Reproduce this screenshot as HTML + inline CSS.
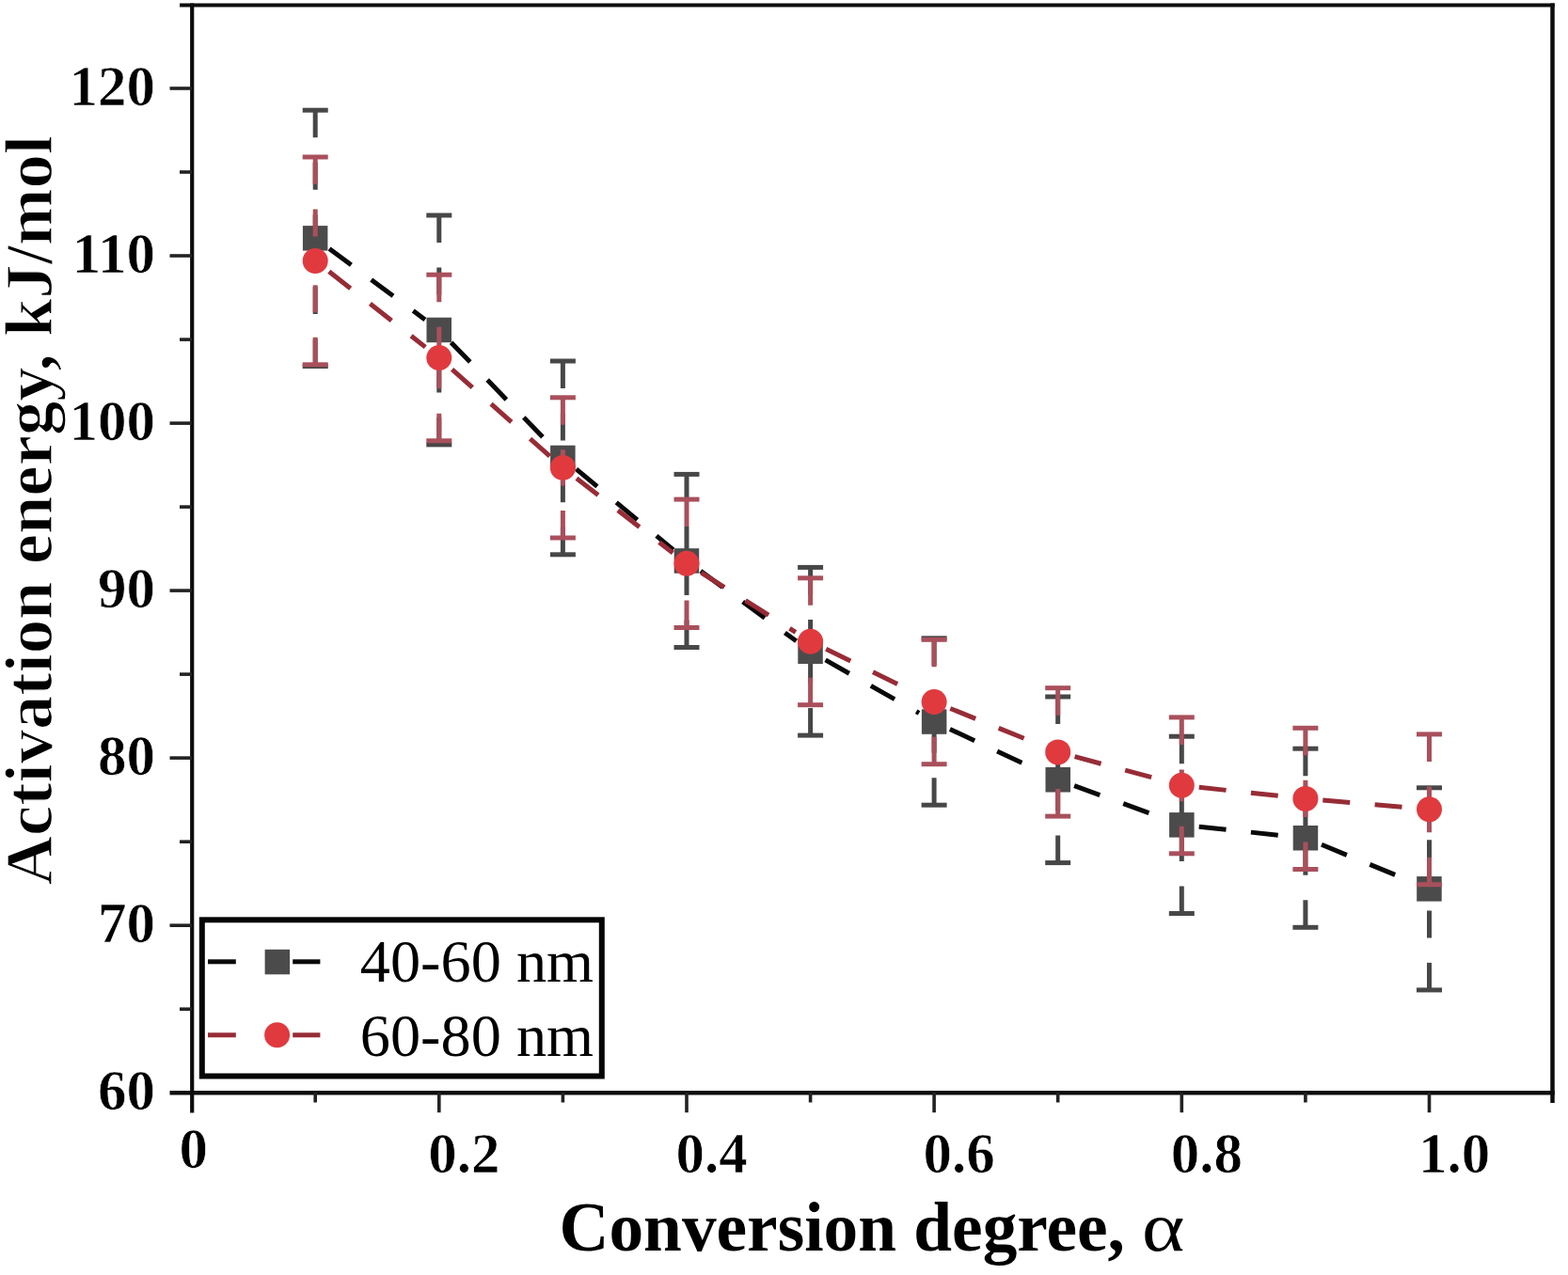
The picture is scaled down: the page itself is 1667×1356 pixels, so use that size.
<!DOCTYPE html>
<html><head><meta charset="utf-8"><title>Activation energy vs conversion degree</title>
<style>html,body{margin:0;padding:0;background:#fff;}svg{display:block;}</style></head>
<body>
<svg width="1667" height="1356" viewBox="0 0 1667 1356">
<rect width="1667" height="1356" fill="#fff"/>
<g stroke="#0d0d0d" fill="none">
<line x1="204.2" y1="3.5" x2="204.2" y2="1183.5" stroke-width="4.2"/>
<line x1="180.5" y1="1162.2" x2="1652.8" y2="1162.2" stroke-width="4.6"/>
<line x1="191" y1="5.5" x2="1652.8" y2="5.5" stroke-width="4"/>
<line x1="1650.5" y1="3.5" x2="1650.5" y2="1173" stroke-width="4.5"/>
</g>
<g stroke="#222" stroke-width="3.6"><line x1="180.5" y1="984.2" x2="204" y2="984.2"/><line x1="180.5" y1="806.1" x2="204" y2="806.1"/><line x1="180.5" y1="628.1" x2="204" y2="628.1"/><line x1="180.5" y1="450.1" x2="204" y2="450.1"/><line x1="180.5" y1="272.0" x2="204" y2="272.0"/><line x1="180.5" y1="94.0" x2="204" y2="94.0"/><line x1="191" y1="1073.2" x2="204" y2="1073.2"/><line x1="191" y1="895.2" x2="204" y2="895.2"/><line x1="191" y1="717.1" x2="204" y2="717.1"/><line x1="191" y1="539.1" x2="204" y2="539.1"/><line x1="191" y1="361.1" x2="204" y2="361.1"/><line x1="191" y1="183.0" x2="204" y2="183.0"/><line x1="335.2" y1="1162" x2="335.2" y2="1172.5"/><line x1="466.8" y1="1162" x2="466.8" y2="1183.2"/><line x1="598.4" y1="1162" x2="598.4" y2="1172.5"/><line x1="730.0" y1="1162" x2="730.0" y2="1183.2"/><line x1="861.6" y1="1162" x2="861.6" y2="1172.5"/><line x1="993.1" y1="1162" x2="993.1" y2="1183.2"/><line x1="1124.7" y1="1162" x2="1124.7" y2="1172.5"/><line x1="1256.3" y1="1162" x2="1256.3" y2="1183.2"/><line x1="1387.9" y1="1162" x2="1387.9" y2="1172.5"/><line x1="1519.5" y1="1162" x2="1519.5" y2="1183.2"/></g>
<g font-family="'Liberation Serif', serif" font-weight="bold" font-size="61" fill="#000" stroke="#fff" stroke-width="0.7" text-anchor="end"><text x="165" y="1179.9">60</text><text x="165" y="1001.9">70</text><text x="165" y="823.8">80</text><text x="165" y="645.8">90</text><text x="165" y="467.8">100</text><text x="165" y="289.7">110</text><text x="165" y="111.7">120</text></g>
<g font-family="'Liberation Serif', serif" font-weight="bold" font-size="61" fill="#000" stroke="#fff" stroke-width="0.7"><text x="190.6" y="1242">0</text><text x="455.3" y="1247">0.2</text><text x="718.5" y="1247">0.4</text><text x="981.6" y="1247">0.6</text><text x="1244.8" y="1247">0.8</text><text x="1508.0" y="1247">1.0</text></g>
<text transform="translate(594.5,1329.5) scale(0.991,1)" x="0" y="0" font-family="'Liberation Serif', serif" font-weight="bold" font-size="74" fill="#000">Conversion degree,</text>
<text transform="translate(1214,1329.5) scale(1.17,1)" x="0" y="0" font-family="'Liberation Serif', serif" font-size="74" fill="#000">α</text>
<text transform="translate(54.6,941.5) rotate(-90)" x="0" y="0" font-family="'Liberation Serif', serif" font-weight="bold" font-size="72.7" fill="#000" stroke="#fff" stroke-width="1.3">Activation energy, kJ/mol</text>
<g stroke="#0a0a0a" stroke-width="5" stroke-dasharray="29 26.5" fill="none"><line x1="350.1" y1="264.4" x2="451.9" y2="339.9"/><line x1="479.6" y1="364.2" x2="585.5" y2="473.6"/><line x1="612.6" y1="498.8" x2="715.7" y2="584.6"/><line x1="744.9" y1="607.3" x2="846.6" y2="681.8"/><line x1="877.6" y1="701.9" x2="977.1" y2="758.4"/><line x1="1009.9" y1="775.4" x2="1108.0" y2="821.4"/><line x1="1142.1" y1="835.6" x2="1238.9" y2="871.0"/><line x1="1274.7" y1="879.3" x2="1369.5" y2="889.3"/><line x1="1405.0" y1="898.3" x2="1502.4" y2="938.3"/></g>
<g stroke="#474747" stroke-width="5" fill="none"><line x1="335.2" y1="117.2" x2="335.2" y2="253.4" stroke-dasharray="29 26.5"/><line x1="335.2" y1="389.5" x2="335.2" y2="253.4" stroke-dasharray="29 26.5"/><line x1="321.7" y1="117.2" x2="348.7" y2="117.2"/><line x1="321.7" y1="389.5" x2="348.7" y2="389.5"/><line x1="466.8" y1="229.0" x2="466.8" y2="350.9" stroke-dasharray="29 26.5"/><line x1="466.8" y1="472.9" x2="466.8" y2="350.9" stroke-dasharray="29 26.5"/><line x1="453.3" y1="229.0" x2="480.3" y2="229.0"/><line x1="453.3" y1="472.9" x2="480.3" y2="472.9"/><line x1="598.4" y1="384.0" x2="598.4" y2="486.9" stroke-dasharray="29 26.5"/><line x1="598.4" y1="589.8" x2="598.4" y2="486.9" stroke-dasharray="29 26.5"/><line x1="584.9" y1="384.0" x2="611.9" y2="384.0"/><line x1="584.9" y1="589.8" x2="611.9" y2="589.8"/><line x1="730.0" y1="504.4" x2="730.0" y2="596.4" stroke-dasharray="29 26.5"/><line x1="730.0" y1="688.5" x2="730.0" y2="596.4" stroke-dasharray="29 26.5"/><line x1="716.5" y1="504.4" x2="743.5" y2="504.4"/><line x1="716.5" y1="688.5" x2="743.5" y2="688.5"/><line x1="861.6" y1="603.4" x2="861.6" y2="692.7" stroke-dasharray="29 26.5"/><line x1="861.6" y1="782.1" x2="861.6" y2="692.7" stroke-dasharray="29 26.5"/><line x1="848.1" y1="603.4" x2="875.1" y2="603.4"/><line x1="848.1" y1="782.1" x2="875.1" y2="782.1"/><line x1="993.1" y1="678.8" x2="993.1" y2="767.5" stroke-dasharray="29 26.5"/><line x1="993.1" y1="856.2" x2="993.1" y2="767.5" stroke-dasharray="29 26.5"/><line x1="979.6" y1="678.8" x2="1006.6" y2="678.8"/><line x1="979.6" y1="856.2" x2="1006.6" y2="856.2"/><line x1="1124.7" y1="741.0" x2="1124.7" y2="829.3" stroke-dasharray="29 26.5"/><line x1="1124.7" y1="917.6" x2="1124.7" y2="829.3" stroke-dasharray="29 26.5"/><line x1="1111.2" y1="741.0" x2="1138.2" y2="741.0"/><line x1="1111.2" y1="917.6" x2="1138.2" y2="917.6"/><line x1="1256.3" y1="783.2" x2="1256.3" y2="877.4" stroke-dasharray="29 26.5"/><line x1="1256.3" y1="971.5" x2="1256.3" y2="877.4" stroke-dasharray="29 26.5"/><line x1="1242.8" y1="783.2" x2="1269.8" y2="783.2"/><line x1="1242.8" y1="971.5" x2="1269.8" y2="971.5"/><line x1="1387.9" y1="796.2" x2="1387.9" y2="891.2" stroke-dasharray="29 26.5"/><line x1="1387.9" y1="986.3" x2="1387.9" y2="891.2" stroke-dasharray="29 26.5"/><line x1="1374.4" y1="796.2" x2="1401.4" y2="796.2"/><line x1="1374.4" y1="986.3" x2="1401.4" y2="986.3"/><line x1="1519.5" y1="837.8" x2="1519.5" y2="945.4" stroke-dasharray="29 26.5"/><line x1="1519.5" y1="1052.9" x2="1519.5" y2="945.4" stroke-dasharray="29 26.5"/><line x1="1506.0" y1="837.8" x2="1533.0" y2="837.8"/><line x1="1506.0" y1="1052.9" x2="1533.0" y2="1052.9"/></g>
<rect x="321.9" y="240.1" width="26.5" height="26.5" fill="#4b4b4b"/><rect x="453.5" y="337.7" width="26.5" height="26.5" fill="#4b4b4b"/><rect x="585.1" y="473.7" width="26.5" height="26.5" fill="#4b4b4b"/><rect x="716.7" y="583.2" width="26.5" height="26.5" fill="#4b4b4b"/><rect x="848.3" y="679.5" width="26.5" height="26.5" fill="#4b4b4b"/><rect x="979.9" y="754.3" width="26.5" height="26.5" fill="#4b4b4b"/><rect x="1111.5" y="816.0" width="26.5" height="26.5" fill="#4b4b4b"/><rect x="1243.1" y="864.1" width="26.5" height="26.5" fill="#4b4b4b"/><rect x="1374.7" y="878.0" width="26.5" height="26.5" fill="#4b4b4b"/><rect x="1506.2" y="932.1" width="26.5" height="26.5" fill="#4b4b4b"/>
<g stroke="#972c36" stroke-width="5" stroke-dasharray="29 26.5" fill="none"><line x1="349.8" y1="288.8" x2="452.2" y2="369.1"/><line x1="480.6" y1="392.8" x2="584.5" y2="485.1"/><line x1="613.0" y1="508.8" x2="715.3" y2="587.9"/><line x1="745.6" y1="609.1" x2="845.9" y2="672.4"/><line x1="878.2" y1="690.3" x2="976.5" y2="738.4"/><line x1="1010.3" y1="753.5" x2="1107.6" y2="793.0"/><line x1="1142.6" y1="804.7" x2="1238.5" y2="830.5"/><line x1="1274.7" y1="837.3" x2="1369.5" y2="847.4"/><line x1="1406.3" y1="851.0" x2="1501.1" y2="859.2"/></g>
<g stroke="#a9505c" stroke-width="5" fill="none"><line x1="335.2" y1="167.0" x2="335.2" y2="277.4" stroke-dasharray="29 26.5"/><line x1="335.2" y1="387.8" x2="335.2" y2="277.4" stroke-dasharray="29 26.5"/><line x1="321.7" y1="167.0" x2="348.7" y2="167.0"/><line x1="321.7" y1="387.8" x2="348.7" y2="387.8"/><line x1="466.8" y1="292.2" x2="466.8" y2="380.5" stroke-dasharray="29 26.5"/><line x1="466.8" y1="468.8" x2="466.8" y2="380.5" stroke-dasharray="29 26.5"/><line x1="453.3" y1="292.2" x2="480.3" y2="292.2"/><line x1="453.3" y1="468.8" x2="480.3" y2="468.8"/><line x1="598.4" y1="422.8" x2="598.4" y2="497.4" stroke-dasharray="29 26.5"/><line x1="598.4" y1="572.0" x2="598.4" y2="497.4" stroke-dasharray="29 26.5"/><line x1="584.9" y1="422.8" x2="611.9" y2="422.8"/><line x1="584.9" y1="572.0" x2="611.9" y2="572.0"/><line x1="730.0" y1="531.1" x2="730.0" y2="599.3" stroke-dasharray="29 26.5"/><line x1="730.0" y1="667.5" x2="730.0" y2="599.3" stroke-dasharray="29 26.5"/><line x1="716.5" y1="531.1" x2="743.5" y2="531.1"/><line x1="716.5" y1="667.5" x2="743.5" y2="667.5"/><line x1="861.6" y1="614.8" x2="861.6" y2="682.2" stroke-dasharray="29 26.5"/><line x1="861.6" y1="749.7" x2="861.6" y2="682.2" stroke-dasharray="29 26.5"/><line x1="848.1" y1="614.8" x2="875.1" y2="614.8"/><line x1="848.1" y1="749.7" x2="875.1" y2="749.7"/><line x1="993.1" y1="680.3" x2="993.1" y2="746.5" stroke-dasharray="29 26.5"/><line x1="993.1" y1="812.7" x2="993.1" y2="746.5" stroke-dasharray="29 26.5"/><line x1="979.6" y1="680.3" x2="1006.6" y2="680.3"/><line x1="979.6" y1="812.7" x2="1006.6" y2="812.7"/><line x1="1124.7" y1="731.7" x2="1124.7" y2="799.9" stroke-dasharray="29 26.5"/><line x1="1124.7" y1="868.1" x2="1124.7" y2="799.9" stroke-dasharray="29 26.5"/><line x1="1111.2" y1="731.7" x2="1138.2" y2="731.7"/><line x1="1111.2" y1="868.1" x2="1138.2" y2="868.1"/><line x1="1256.3" y1="762.9" x2="1256.3" y2="835.3" stroke-dasharray="29 26.5"/><line x1="1256.3" y1="907.8" x2="1256.3" y2="835.3" stroke-dasharray="29 26.5"/><line x1="1242.8" y1="762.9" x2="1269.8" y2="762.9"/><line x1="1242.8" y1="907.8" x2="1269.8" y2="907.8"/><line x1="1387.9" y1="774.3" x2="1387.9" y2="849.4" stroke-dasharray="29 26.5"/><line x1="1387.9" y1="924.5" x2="1387.9" y2="849.4" stroke-dasharray="29 26.5"/><line x1="1374.4" y1="774.3" x2="1401.4" y2="774.3"/><line x1="1374.4" y1="924.5" x2="1401.4" y2="924.5"/><line x1="1519.5" y1="780.9" x2="1519.5" y2="860.8" stroke-dasharray="29 26.5"/><line x1="1519.5" y1="940.7" x2="1519.5" y2="860.8" stroke-dasharray="29 26.5"/><line x1="1506.0" y1="780.9" x2="1533.0" y2="780.9"/><line x1="1506.0" y1="940.7" x2="1533.0" y2="940.7"/></g>
<circle cx="335.2" cy="277.4" r="13.5" fill="#e03a3f"/><circle cx="466.8" cy="380.5" r="13.5" fill="#e03a3f"/><circle cx="598.4" cy="497.4" r="13.5" fill="#e03a3f"/><circle cx="730.0" cy="599.3" r="13.5" fill="#e03a3f"/><circle cx="861.6" cy="682.2" r="13.5" fill="#e03a3f"/><circle cx="993.1" cy="746.5" r="13.5" fill="#e03a3f"/><circle cx="1124.7" cy="799.9" r="13.5" fill="#e03a3f"/><circle cx="1256.3" cy="835.3" r="13.5" fill="#e03a3f"/><circle cx="1387.9" cy="849.4" r="13.5" fill="#e03a3f"/><circle cx="1519.5" cy="860.8" r="13.5" fill="#e03a3f"/>
<rect x="214.8" y="978.3" width="425" height="166.2" fill="#fff" stroke="#050505" stroke-width="6"/><g stroke-width="5"><line x1="221" y1="1022.8" x2="250.8" y2="1022.8" stroke="#0a0a0a"/><line x1="311.2" y1="1022.8" x2="340.4" y2="1022.8" stroke="#0a0a0a"/><line x1="221" y1="1100.8" x2="250.8" y2="1100.8" stroke="#972c36"/><line x1="311.2" y1="1100.8" x2="340.4" y2="1100.8" stroke="#972c36"/></g><rect x="281.6" y="1009.8" width="26.5" height="26.5" fill="#4b4b4b"/><circle cx="294.6" cy="1100.8" r="13.5" fill="#e03a3f"/><g font-family="'Liberation Serif', serif" font-size="64.3" fill="#000"><text x="382.8" y="1043.5">40-60 nm</text><text x="382.8" y="1122.5">60-80 nm</text></g>
</svg>
</body></html>
